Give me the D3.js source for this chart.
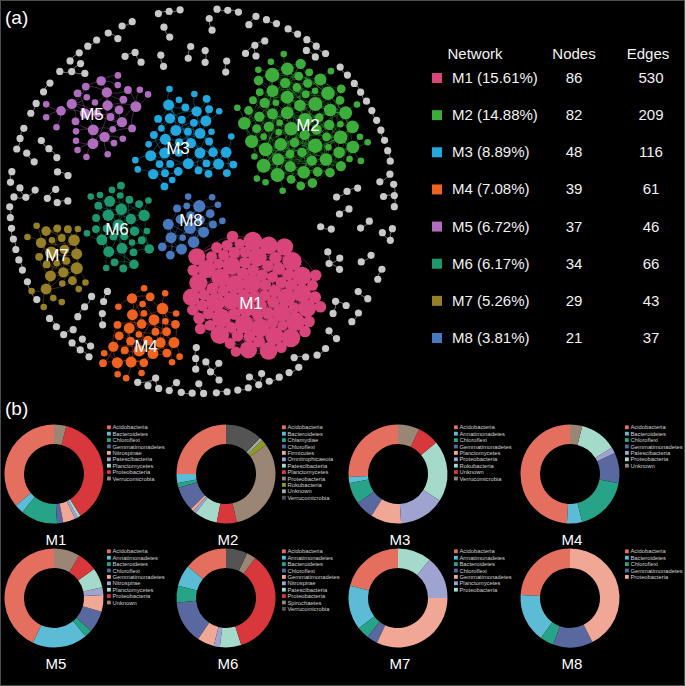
<!DOCTYPE html>
<html>
<head>
<meta charset="utf-8">
<script src="https://cdn.jsdelivr.net/npm/d3@7"></script>
<style>
	html, body { margin: 0; background: #000; }
	svg { display: block; font-family: "Liberation Sans", Arial, sans-serif; }
</style>
</head>
<body>
<svg id="chart" width="685" height="686"></svg>
<script>
// ---- data ----
const modules     = ["M1", "M2", "M3", "M4", "M5", "M6", "M7", "M8"];
const modulePct   = ["15.61", "14.88", "8.89", "7.08", "6.72", "6.17", "5.26", "3.81"];
const moduleNodes = [86, 82, 48, 39, 37, 34, 29, 21];
const moduleEdges = [530, 209, 116, 61, 46, 66, 43, 37];
const tableHeads  = ["Network", "Nodes", "Edges"];

// small unclustered components (grey), sizes in nodes; 551 nodes in total
const greyComponentSizes = [
	2, 2, 3, 2, 2, 2, 4, 2, 3, 2,
	2, 3, 2, 2, 2, 3, 2, 4, 2, 2,
	3, 2, 2, 2, 4, 2, 2, 3, 2, 2,
	2, 2, 2, 3, 2, 2, 4, 2, 2, 3,
	2, 4, 2, 2, 3, 2, 2, 2, 3, 2,
	2, 2, 3, 2, 2, 4, 2, 2, 2, 3,
	3, 2, 2, 4, 2, 2, 3, 2, 2, 2,
	2, 3, 2,
];

// phylum composition of each module (% of nodes), legend order
const taxaM1  = ["Acidobacteria", "Bacteroidetes", "Chloroflexi", "Gemmatimonadetes", "Nitrospinae", "Patescibacteria", "Planctomycetes", "Proteobacteria", "Verrucomicrobia"];
const shareM1 = [36, 3, 12, 2, 4, 1, 1, 37, 4];
const taxaM2  = ["Acidobacteria", "Bacteroidetes", "Chlamydiae", "Chloroflexi", "Firmicutes", "Omnitrophicaeota", "Patescibacteria", "Planctomycetes", "Proteobacteria", "Rokubacteria", "Unknown", "Verrucomicrobia"];
const shareM2 = [25, 3, 1.5, 8, 1, 1, 7.5, 6.5, 31.5, 2, 1, 12];
const taxaM3  = ["Acidobacteria", "Armatimonadetes", "Chloroflexi", "Gemmatimonadetes", "Planctomycetes", "Proteobacteria", "Rokubacteria", "Unknown", "Verrucomicrobia"];
const shareM3 = [26, 2, 7, 6, 10, 15, 20, 7, 7];
const taxaM4  = ["Acidobacteria", "Bacteroidetes", "Chloroflexi", "Gemmatimonadetes", "Patescibacteria", "Proteobacteria", "Unknown"];
const shareM4 = [49, 5, 18, 10, 2, 12, 4];
const taxaM5  = ["Acidobacteria", "Armatimonadetes", "Bacteroidetes", "Chloroflexi", "Gemmatimonadetes", "Nitrospirae", "Planctomycetes", "Proteobacteria", "Unknown"];
const shareM5 = [43, 18, 2.5, 7, 5.5, 2.5, 6.5, 6.5, 8.5];
const taxaM6  = ["Acidobacteria", "Armatimonadetes", "Bacteroidetes", "Chloroflexi", "Gemmatimonadetes", "Nitrospirae", "Patescibacteria", "Proteobacteria", "Spirochaetes", "Verrucomicrobia"];
const shareM6 = [14, 7, 5.5, 14, 5.5, 2, 7, 35, 3, 7];
const taxaM7  = ["Acidobacteria", "Armatimonadetes", "Bacteroidetes", "Chloroflexi", "Gemmatimonadetes", "Planctomycetes", "Proteobacteria"];
const shareM7 = [21, 14.5, 4, 3.5, 32, 14, 11];
const taxaM8  = ["Acidobacteria", "Bacteroidetes", "Chloroflexi", "Gemmatimonadetes", "Proteobacteria"];
const shareM8 = [24, 16, 4.5, 13, 42.5];

const composition = [
	[taxaM1, shareM1], [taxaM2, shareM2], [taxaM3, shareM3], [taxaM4, shareM4],
	[taxaM5, shareM5], [taxaM6, shareM6], [taxaM7, shareM7], [taxaM8, shareM8],
].map(([taxa, share], i) => ({ name: modules[i], slices: taxa.map((t, j) => ({ taxon: t, value: share[j] })) }));

// ---- style / layout ----
const MODULE_COLORS = ["#d9457a", "#3cad3a", "#22a7de", "#f0621f", "#b06cbf", "#1e9771", "#977f27", "#4878bd"];
const GREY = "#c9c9c9";
const DONUT_COLORS = ["#e56f5f", "#5cbcd5", "#27a387", "#59699f", "#f0a795", "#9ea3cf", "#a5dacb", "#d8383b", "#9b8676", "#8c9a2c", "#aaaaaa", "#545454"];
// colour index per legend row (M4 and M6 skip a few palette entries)
const donutColorIdx = { M4: [0, 1, 2, 3, 5, 6, 8], M6: [0, 1, 2, 3, 4, 5, 6, 7, 8, 11] };
// where each module cloud sits in panel (a) and how tightly it is pulled in x / y
const MODULE_LAYOUT = [
	{ c: [248, 294], sx: 0.06, sy: 0.06, label: [251, 309] },
	{ c: [305, 120], sx: 0.05, sy: 0.05, label: [308, 131] },
	{ c: [183, 143], sx: 0.06, sy: 0.06, label: [178, 154] },
	{ c: [142, 338], sx: 0.07, sy: 0.07, label: [146, 352] },
	{ c: [108, 114], sx: 0.02, sy: 0.07, label: [92, 120] },
	{ c: [117, 228], sx: 0.07, sy: 0.07, label: [117, 235] },
	{ c: [60, 258],  sx: 0.12, sy: 0.03, label: [57, 261] },
	{ c: [192, 222], sx: 0.09, sy: 0.09, label: [191, 226] },
];
const RING = { cx: 202, cy: 201, r: [150, 167, 183], max: 196 };

const svg = d3.select("#chart");
svg.append("rect").attr("width", 685).attr("height", 686).attr("fill", "#000");
svg.append("rect").attr("x", 0.5).attr("y", 0.5).attr("width", 684).attr("height", 685)
	.attr("fill", "none").attr("stroke", "#4d4d4d");

// ---- panel (a): network ----
const nodes = [], links = [];
modules.forEach((m, mi) => {
	const n = moduleNodes[mi], e = moduleEdges[mi], base = nodes.length;
	for (let i = 0; i < n; i++) nodes.push({ id: base + i, group: mi, idx: i });
	const seen = new Set();
	let count = 0;
	const add = (a, b) => {
		if (a === b) return;
		const key = Math.min(a, b) + "-" + Math.max(a, b);
		if (seen.has(key)) return;
		seen.add(key);
		links.push({ source: base + a, target: base + b, group: mi });
		count++;
	};
	// spanning tree, then extra edges that favour a core of nodes
	for (let i = 1; i < n; i++) add(i, Math.floor((i - 1) / 3));
	const core = Math.max(4, Math.round(n * 0.35));
	for (let k = 0; count < e && k < 20000; k++) add(k % core, (k * 7 + 3 + Math.floor(k / core)) % n);
});
greyComponentSizes.forEach((size, c) => {
	const base = nodes.length;
	for (let j = 0; j < size; j++) nodes.push({ id: base + j, group: -1, comp: c, idx: j });
	for (let j = 1; j < size; j++) {
		links.push({ source: base + j, target: base + (size === 4 && j === 3 ? 1 : j - 1), group: -1 });
	}
});

const degree = new Map();
links.forEach(l => {
	degree.set(l.source, (degree.get(l.source) || 0) + 1);
	degree.set(l.target, (degree.get(l.target) || 0) + 1);
});
const rScale = d3.scalePow().exponent(0.5).domain([1, 30]).range([3.3, 10]).clamp(true);
const nComp = greyComponentSizes.length;
nodes.forEach(d => {
	d.deg = degree.get(d.id) || 1;
	if (d.group >= 0) {
		d.r = rScale(d.deg);
		const L = MODULE_LAYOUT[d.group];
		const rr = 5 * Math.sqrt(d.idx + 0.5), a = d.idx * 2.39996;
		d.x = L.c[0] + rr * Math.cos(a);
		d.y = L.c[1] + rr * Math.sin(a);
	} else {
		d.r = 3.6;
		const a = d.comp / nComp * 2 * Math.PI - Math.PI / 2;
		const R = RING.r[d.comp % 3];
		d.tx = RING.cx + R * Math.cos(a);
		d.ty = RING.cy + R * Math.sin(a);
		const turn = (d.comp % 4) * 0.8;
		d.x = d.tx + Math.cos(a + turn) * d.idx * 8;
		d.y = d.ty + Math.sin(a + turn) * d.idx * 8;
	}
});

// soft pull back inside the round outline of the network
function contain() {
	nodes.forEach(d => {
		const dx = d.x - RING.cx, dy = d.y - RING.cy, dist = Math.hypot(dx, dy);
		const lim = RING.max - d.r;
		if (dist > lim) {
			const k = (dist - lim) / dist * 0.25;
			d.vx -= dx * k;
			d.vy -= dy * k;
		}
	});
}

const sim = d3.forceSimulation(nodes)
	.force("link", d3.forceLink(links).id(d => d.id)
		.distance(l => l.group < 0 ? 11 : l.group === 0 ? 20 : 16))
	.force("charge", d3.forceManyBody().strength(d => d.group < 0 ? -8 : -11).distanceMax(50))
	.force("x", d3.forceX(d => d.group >= 0 ? MODULE_LAYOUT[d.group].c[0] : d.tx)
		.strength(d => d.group >= 0 ? MODULE_LAYOUT[d.group].sx : 0.04))
	.force("y", d3.forceY(d => d.group >= 0 ? MODULE_LAYOUT[d.group].c[1] : d.ty)
		.strength(d => d.group >= 0 ? MODULE_LAYOUT[d.group].sy : 0.04))
	.force("collide", d3.forceCollide(d => d.group === 0 ? d.r * 0.85 + 0.5 : d.group < 0 ? d.r + 1.8 : d.r + 1.4).iterations(2))
	.force("contain", contain)
	.stop();
for (let i = 0; i < 450; i++) sim.tick();

const gNet = svg.append("g");
const curve = (l, i) => {
	const s = l.source, t = l.target;
	const mx = (s.x + t.x) / 2, my = (s.y + t.y) / 2;
	const k = (i % 2 ? 0.18 : -0.18);
	const cx = mx - (t.y - s.y) * k, cy = my + (t.x - s.x) * k;
	return `M${s.x},${s.y}Q${cx},${cy} ${t.x},${t.y}`;
};
gNet.append("g").attr("fill", "none")
	.selectAll("path").data(links).join("path")
	.attr("d", curve)
	.attr("stroke", l => l.group < 0 ? "#a0a0a0" : MODULE_COLORS[l.group])
	.attr("stroke-opacity", l => l.group < 0 ? 0.9 : 0.6)
	.attr("stroke-width", l => l.group < 0 ? 0.8 : 0.6);
const nodeOrder = nodes.slice().sort((a, b) => (a.group < 0 ? -1 : 1) - (b.group < 0 ? -1 : 1));
gNet.append("g")
	.selectAll("circle").data(nodeOrder).join("circle")
	.attr("cx", d => d.x).attr("cy", d => d.y).attr("r", d => d.r)
	.attr("fill", d => d.group < 0 ? GREY : MODULE_COLORS[d.group]);
gNet.append("g")
	.selectAll("text").data(modules).join("text")
	.attr("x", (m, i) => MODULE_LAYOUT[i].label[0])
	.attr("y", (m, i) => MODULE_LAYOUT[i].label[1])
	.attr("text-anchor", "middle").attr("font-size", 17).attr("fill", "#fff")
	.text(m => m);

svg.append("text").attr("x", 5).attr("y", 24).attr("font-size", 19).attr("fill", "#fff").text("(a)");
svg.append("text").attr("x", 5).attr("y", 415).attr("font-size", 19).attr("fill", "#fff").text("(b)");

// ---- module table ----
const rowY = d3.scalePoint().domain(modules).range([83, 343]);
const colX = d3.scaleOrdinal().domain(tableHeads).range([475, 574, 648]);
const gTab = svg.append("g").attr("fill", "#f2f2f2").attr("font-size", 15);
gTab.selectAll("text.head").data(tableHeads).join("text").attr("class", "head")
	.attr("x", d => colX(d)).attr("y", 59).attr("text-anchor", "middle").text(d => d);
const rows = gTab.selectAll("g.row").data(modules).join("g").attr("class", "row")
	.attr("transform", m => `translate(0,${rowY(m)})`);
rows.append("rect").attr("x", 432).attr("y", -10).attr("width", 10).attr("height", 10)
	.attr("fill", (m, i) => MODULE_COLORS[i]);
rows.append("text").attr("x", 452).text((m, i) => `${m} (${modulePct[i]}%)`);
rows.append("text").attr("x", colX("Nodes")).attr("text-anchor", "middle").text((m, i) => moduleNodes[i]);
rows.append("text").attr("x", colX("Edges") + 3).attr("text-anchor", "middle").text((m, i) => moduleEdges[i]);

// ---- panel (b): composition donuts ----
const gridX = d3.scalePoint().domain([0, 1, 2, 3]).range([54, 570]);
const gridY = d3.scalePoint().domain([0, 1]).range([474, 598]);
const pie = d3.pie().value(d => d.value).sort(null).startAngle(0).endAngle(-2 * Math.PI);
const arc = d3.arc().innerRadius(30).outerRadius(49.5);
const legendY = d3.scaleLinear().domain([0, 1]).range([0, 6.4]);

composition.forEach((mod, i) => {
	const cx = gridX(i % 4), cy = gridY(Math.floor(i / 4));
	const idx = donutColorIdx[mod.name] || mod.slices.map((s, j) => j);
	const color = j => DONUT_COLORS[idx[j]];
	const g = svg.append("g").attr("transform", `translate(${cx},${cy})`);
	g.selectAll("path").data(pie(mod.slices)).join("path")
		.attr("d", arc).attr("fill", (d, j) => color(j));
	g.append("text").attr("x", 2).attr("y", 71).attr("text-anchor", "middle")
		.attr("font-size", 15).attr("fill", "#fff").text(mod.name);
	const lg = g.append("g").attr("transform", `translate(${i % 4 === 0 ? 53 : i % 4 === 3 ? 55 : 56},-45)`);
	const item = lg.selectAll("g").data(mod.slices).join("g")
		.attr("transform", (d, j) => `translate(0,${legendY(j)})`);
	item.append("rect").attr("x", 0).attr("y", -3.6).attr("width", 3.8).attr("height", 3.8)
		.attr("fill", (d, j) => color(j));
	item.append("text").attr("x", 5.5).attr("y", 0.3).attr("font-size", 5.8).attr("fill", "#cfcfcf")
		.text(d => d.taxon);
});
</script>
</body>
</html>
